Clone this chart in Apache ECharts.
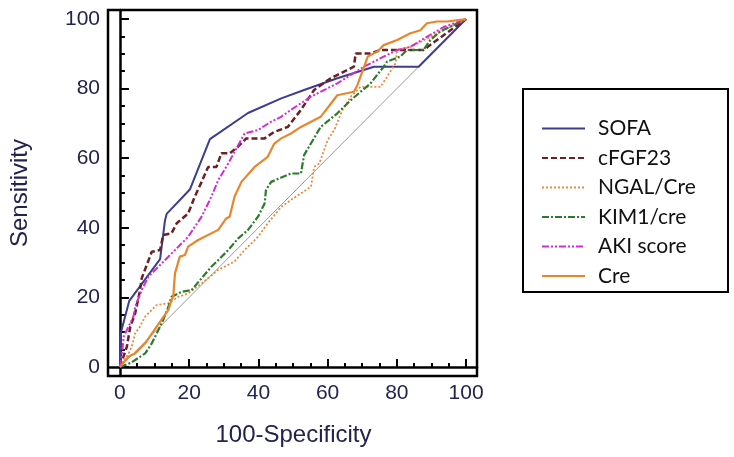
<!DOCTYPE html>
<html>
<head>
<meta charset="utf-8">
<script src="https://cdn.jsdelivr.net/npm/echarts@6/dist/echarts.min.js"></script>
<style>
html,body{margin:0;padding:0;background:#fff;}
#c{width:734px;height:457px;}
</style>
</head>
<body>
<div id="c"></div>
<script>
// ---- data (x = 100-Specificity, y = Sensitivity) ----
var seriesNames = ['SOFA', 'cFGF23', 'NGAL/Cre', 'KIM1/cre', 'AKI score', 'Cre'];
var majorTicks = [0, 20, 40, 60, 80, 100];
var minorTicks = [5, 10, 15, 25, 30, 35, 45, 50, 55, 65, 70, 75, 85, 90, 95];

var sofa = [[0,0],[0.3,10],[2.7,19],[11.6,31],[13,42],[13.5,44],[20.2,51],[26,65.5],[37,73],[46.6,77.2],[53.2,79.6],[62.8,83],[73.4,86.3],[86.3,86.3],[100,100]];

var cfgf23 = [[0,0],[2,5.8],[3,11.6],[4.4,15.4],[5.8,22],[6.3,25.5],[9.2,33.1],[11.6,33.6],[12.5,37.9],[14.9,38.4],[16.4,41.3],[19.7,44.1],[21.6,48.9],[23.6,53.2],[25.5,57.5],[27.9,57.5],[29.3,61.4],[31.7,61.4],[34.1,63.3],[36.5,65.7],[41.8,65.7],[44.5,67.5],[48.5,69],[52.3,73.9],[56.1,79.6],[60.9,83],[67.6,86.3],[68.1,90.1],[72.4,90.1],[75.3,91.1],[87.7,91.1],[93,95],[100,100]];

var ngal = [[0,0],[2.5,3.9],[3.4,5.8],[4.4,9.7],[5.8,11.6],[7.3,14.5],[10.6,17.8],[14,18.3],[16.9,20.2],[19.7,21.1],[23.6,24],[28.4,27.9],[33.1,30.3],[36,33.6],[39.9,37.4],[42.7,41.3],[46.6,46],[49.4,48],[52.3,49.9],[55.2,51.8],[56.1,57.5],[57.6,58.5],[60,65.2],[61.9,68.1],[64.3,73.9],[66.7,77.7],[69.5,80.5],[75.3,80.5],[79.6,87.2],[80.1,91.1],[83.9,92],[90,95],[100,100]];

var kim1 = [[0,0],[3,1.1],[4.4,2],[7.3,3.9],[9.2,6.8],[11.1,10.6],[12.5,13.5],[14,17.3],[14.9,20.2],[17.8,21.6],[20.7,22.1],[23.6,25.5],[26.4,28.8],[28.4,30.7],[31.3,33.6],[34.1,36.9],[37,39.4],[39.9,43.2],[41.8,47],[42.2,50.9],[43.7,53.2],[49.4,55.6],[52.3,55.6],[53.2,60.9],[58,69],[62.8,72.9],[66.7,76.7],[72.4,81.5],[76.2,86.3],[77.2,87.8],[81,89.2],[82.9,91.1],[87.7,91.1],[89.7,94],[92.5,96.4],[100,100]];

var aki = [[0,0],[0.6,3.9],[1.1,8.7],[2,10.6],[3.9,14.5],[4.4,17.3],[6.3,22.1],[8.2,25.9],[11.6,29.3],[15.4,33.1],[19.7,37.4],[23.6,43.2],[26.4,48.9],[28.4,53.7],[31.3,58.5],[36,67.1],[39.9,68.1],[43.7,70.5],[46.6,71.9],[49.4,73.9],[55.2,77.7],[62.8,81.5],[70.5,86.3],[76.2,89.2],[80.1,91.1],[83.9,92],[88.7,94.9],[93.5,97.7],[100,100]];

var cre = [[0,0],[2.5,3],[4.4,3.9],[7.3,6.8],[10.6,11.6],[14,16.4],[14.9,19.3],[15.4,20.2],[15.9,26.9],[17.3,31.7],[18.8,32.2],[19.7,34.6],[22.6,36.5],[28.4,39.4],[30.7,42.7],[31.7,43.2],[33.1,48.9],[35.1,53.2],[38.9,57.5],[42.7,60.4],[44.6,64.2],[46.6,65.7],[49.4,67.1],[52.3,69],[58,71.9],[62.8,78.1],[67.6,79.1],[68.6,81],[71.6,89.2],[74.4,90.7],[76.2,92.5],[80.1,94],[83.9,95.9],[86.8,96.8],[88.7,98.8],[91.6,99.3],[94.5,99.3],[100,100]];

var diagonal = [[0,0],[100,100]];

var navy = '#23234f';
var colors = ['#3d3d8f', '#6e1f24', '#e88a3c', '#2e7a2e', '#d42ad4', '#e8862e'];
var lineTypes = ['solid', [6,3], [2,2], [7,2,2,2], [7,2,2,2,2,2], 'solid'];
var lineWidths = [2, 2.5, 1.8, 2.2, 2, 2.2];
var dataSets = [sofa, cfgf23, ngal, kim1, aki, cre];

var series = [{
  type: 'line', data: diagonal, symbol: 'none', silent: true,
  lineStyle: {color: '#9a9a9a', width: 1}, z: 1
}];
seriesNames.forEach(function (n, i) {
  series.push({
    name: n, type: 'line', data: dataSets[i], symbol: 'none', showSymbol: false,
    lineStyle: {color: colors[i], width: lineWidths[i], type: lineTypes[i]},
    itemStyle: {color: colors[i]}, z: 2 + i
  });
});

var XMIN = -2.87, XMAX = 103.16, YMIN = -2.6, YMAX = 102.6;
var labelFont = {fontFamily: 'Liberation Sans', fontSize: 21, color: navy};
var tickStyle = {color: '#000', width: 2};

var chart = echarts.init(document.getElementById('c'), null, {renderer: 'canvas'});
chart.setOption({
  animation: false,
  backgroundColor: '#fff',
  grid: {left: 108, right: 257, top: 10, bottom: 81, containLabel: false},
  xAxis: [{
    type: 'value', min: XMIN, max: XMAX, position: 'bottom',
    name: '100-Specificity', nameLocation: 'middle', nameGap: 47,
    nameTextStyle: {fontFamily: 'Liberation Sans', fontSize: 24, color: navy},
    axisLine: {show: true, lineStyle: {color: '#000', width: 2.5}},
    axisTick: {show: true, inside: true, length: 8, lineStyle: tickStyle, customValues: majorTicks},
    splitLine: {show: false},
    axisLabel: Object.assign({margin: 7, customValues: majorTicks}, labelFont)
  }, {
    type: 'value', min: XMIN, max: XMAX, position: 'bottom',
    axisLine: {show: false},
    axisTick: {show: true, inside: true, length: 4, lineStyle: tickStyle, customValues: minorTicks},
    splitLine: {show: false},
    axisLabel: {show: false}
  }],
  yAxis: [{
    type: 'value', min: YMIN, max: YMAX, position: 'left',
    name: 'Sensitivity', nameLocation: 'middle', nameGap: 78,
    nameTextStyle: {fontFamily: 'Liberation Sans', fontSize: 24, color: navy},
    axisLine: {show: true, lineStyle: {color: '#000', width: 2.5}},
    axisTick: {show: true, inside: true, length: 9, lineStyle: tickStyle, customValues: majorTicks},
    splitLine: {show: false},
    axisLabel: Object.assign({margin: 10, customValues: majorTicks}, labelFont)
  }, {
    type: 'value', min: YMIN, max: YMAX, position: 'left',
    axisLine: {show: false},
    axisTick: {show: true, inside: true, length: 5, lineStyle: tickStyle, customValues: minorTicks},
    splitLine: {show: false},
    axisLabel: {show: false}
  }],
  legend: {
    orient: 'vertical', left: 536, top: 113,
    data: seriesNames,
    itemWidth: 43, itemHeight: 14, itemGap: 8.5,
    itemStyle: {opacity: 0, borderWidth: 0},
    textStyle: {fontFamily: 'Lato', fontSize: 21, color: '#111', lineHeight: 20, padding: [0,0,0,8]}
  },
  graphic: [
    {type: 'rect', shape: {x: 108, y: 10, width: 369, height: 366},
     style: {fill: 'none', stroke: '#000', lineWidth: 2.5}, z: 100, silent: true},
    {type: 'rect', shape: {x: 523, y: 89, width: 205, height: 203},
     style: {fill: 'none', stroke: '#000', lineWidth: 2}, z: 100, silent: true}
  ],
  series: series
});
</script>
</body>
</html>
